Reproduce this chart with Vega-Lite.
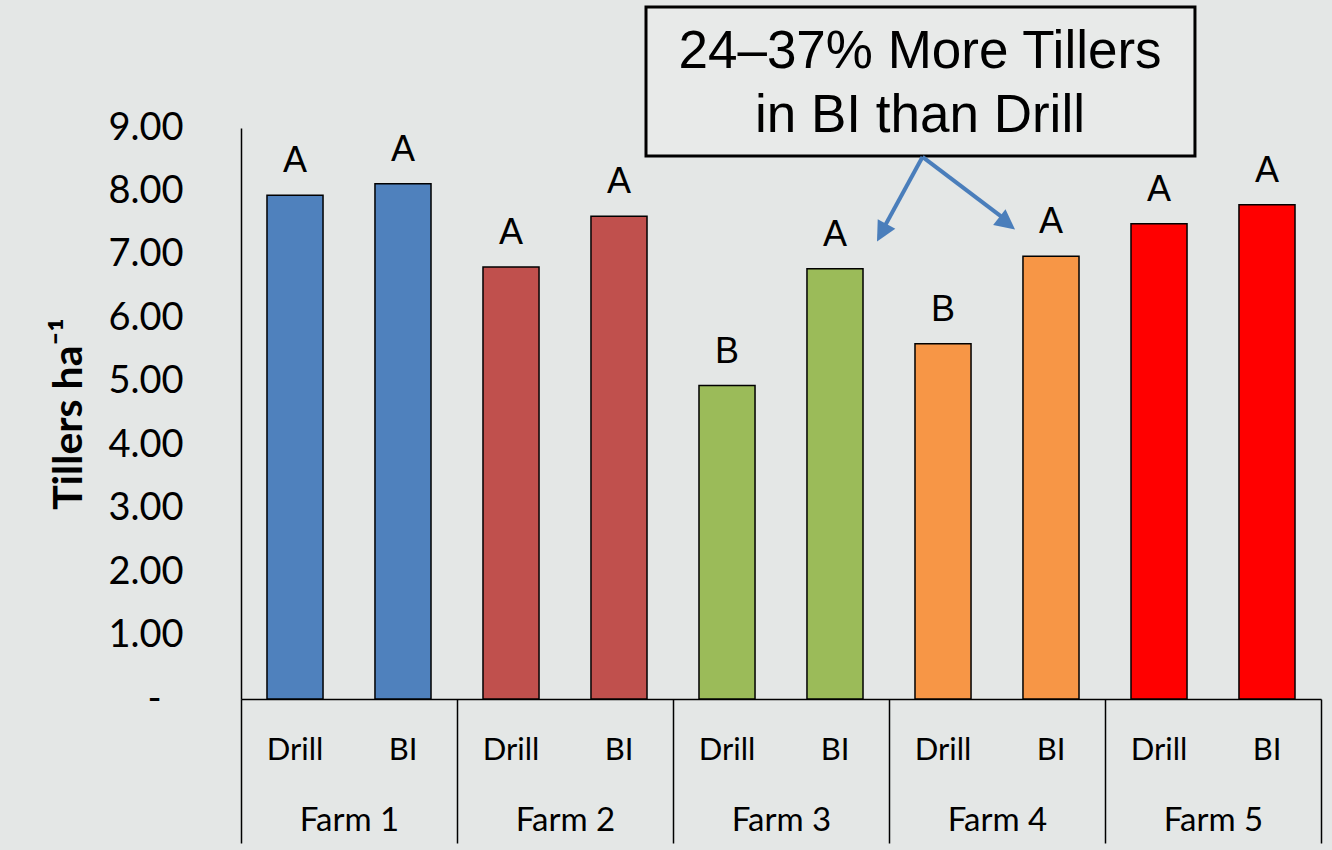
{
  "$schema": "https://vega.github.io/schema/vega-lite/v6.json",
  "width": 1080,
  "height": 571,
  "autosize": {"type": "none"},
  "padding": {"left": 241, "top": 128, "right": 11, "bottom": 151},
  "background": "#e4e7e6",
  "config": {"view": {"stroke": null}, "font": "Lato"},
  "data": {
    "values": [
      {"Farm": "Farm 1", "Method": "Drill", "Tillers": 7.94, "Group": "A"},
      {"Farm": "Farm 1", "Method": "BI", "Tillers": 8.12, "Group": "A"},
      {"Farm": "Farm 2", "Method": "Drill", "Tillers": 6.81, "Group": "A"},
      {"Farm": "Farm 2", "Method": "BI", "Tillers": 7.61, "Group": "A"},
      {"Farm": "Farm 3", "Method": "Drill", "Tillers": 4.94, "Group": "B"},
      {"Farm": "Farm 3", "Method": "BI", "Tillers": 6.78, "Group": "A"},
      {"Farm": "Farm 4", "Method": "Drill", "Tillers": 5.6, "Group": "B"},
      {"Farm": "Farm 4", "Method": "BI", "Tillers": 6.98, "Group": "A"},
      {"Farm": "Farm 5", "Method": "Drill", "Tillers": 7.49, "Group": "A"},
      {"Farm": "Farm 5", "Method": "BI", "Tillers": 7.79, "Group": "A"}
    ]
  },
  "layer": [
    {
      "encoding": {
        "x": {
          "field": "Farm",
          "type": "nominal",
          "scale": {"paddingInner": 0, "paddingOuter": 0},
          "axis": {
            "title": null,
            "grid": false,
            "tickBand": "extent",
            "tickSize": 144,
            "tickColor": "black",
            "tickWidth": 1.5,
            "domainColor": "black",
            "domainWidth": 1.5,
            "labelAngle": 0,
            "labelFont": "Lato",
            "labelFontSize": 33,
            "labelColor": "black",
            "labelBaseline": "alphabetic",
            "labelPadding": -13
          }
        },
        "xOffset": {
          "field": "Method",
          "type": "nominal",
          "sort": ["Drill", "BI"],
          "scale": {"paddingInner": 0.481, "paddingOuter": 0.2407}
        },
        "y": {
          "field": "Tillers",
          "type": "quantitative",
          "scale": {"domain": [0, 9], "nice": false},
          "axis": {
            "title": "Tillers ha⁻¹",
            "titleFont": "Lato",
            "titleFontWeight": "bold",
            "titleFontSize": 41,
            "titleColor": "black",
            "titlePadding": 17,
            "values": [0, 1, 2, 3, 4, 5, 6, 7, 8, 9],
            "labelExpr": "datum.value == 0 ? '-' : format(datum.value, '.2f')",
            "ticks": false,
            "tickSize": 0,
            "labelPadding": {"condition": {"test": "datum.value == 0", "value": 80}, "value": 58},
            "labelFont": "Lato",
            "labelFontSize": 38,
            "labelColor": "black",
            "domainColor": "black",
            "domainWidth": 1.5,
            "grid": false
          }
        }
      },
      "layer": [
        {
          "mark": {"type": "bar", "stroke": "black", "strokeWidth": 1.5},
          "encoding": {
            "color": {
              "field": "Farm",
              "type": "nominal",
              "scale": {
                "domain": ["Farm 1", "Farm 2", "Farm 3", "Farm 4", "Farm 5"],
                "range": ["#4f81bd", "#c0504d", "#9bbb59", "#f79646", "#ff0000"]
              },
              "legend": null
            }
          }
        },
        {
          "mark": {
            "type": "text",
            "font": "Liberation Sans",
            "fontSize": 36,
            "color": "black",
            "baseline": "alphabetic",
            "dy": -23
          },
          "encoding": {"text": {"field": "Group"}}
        },
        {
          "mark": {
            "type": "text",
            "font": "Lato",
            "fontSize": 31,
            "color": "black",
            "baseline": "alphabetic",
            "dy": 61
          },
          "encoding": {
            "y": {"datum": 0, "type": "quantitative"},
            "text": {"field": "Method"}
          }
        }
      ]
    },
    {
      "data": {"values": [{}]},
      "layer": [
        {
          "mark": {"type": "rect", "fill": "#ffffff", "fillOpacity": 0.15, "stroke": "black", "strokeWidth": 3},
          "encoding": {
            "x": {"datum": 3.75, "type": "quantitative", "scale": {"domain": [0, 10], "nice": false, "zero": false}, "axis": null},
            "x2": {"datum": 8.833},
            "y": {"datum": 10.907, "type": "quantitative", "scale": {"domain": [0, 9], "nice": false}, "axis": null},
            "y2": {"datum": 8.559}
          }
        },
        {
          "mark": {
            "type": "text",
            "text": ["24–37% More Tillers", "in BI than Drill"],
            "font": "Liberation Sans",
            "fontSize": 53,
            "lineHeight": 64,
            "color": "black",
            "align": "center",
            "baseline": "alphabetic"
          },
          "encoding": {
            "x": {"datum": 6.287, "type": "quantitative", "scale": {"domain": [0, 10], "nice": false, "zero": false}, "axis": null},
            "y": {"datum": 9.946, "type": "quantitative", "scale": {"domain": [0, 9], "nice": false}, "axis": null}
          }
        },
        {
          "mark": {"type": "rule", "color": "#4a7ebb", "strokeWidth": 4},
          "encoding": {
            "x": {"datum": 6.31, "type": "quantitative", "scale": {"domain": [0, 10], "nice": false, "zero": false}, "axis": null},
            "y": {"datum": 8.544, "type": "quantitative", "scale": {"domain": [0, 9], "nice": false}, "axis": null},
            "x2": {"datum": 5.95},
            "y2": {"datum": 7.42}
          }
        },
        {
          "mark": {"type": "rule", "color": "#4a7ebb", "strokeWidth": 4},
          "encoding": {
            "x": {"datum": 6.31, "type": "quantitative", "scale": {"domain": [0, 10], "nice": false, "zero": false}, "axis": null},
            "y": {"datum": 8.544, "type": "quantitative", "scale": {"domain": [0, 9], "nice": false}, "axis": null},
            "x2": {"datum": 7.05},
            "y2": {"datum": 7.59}
          }
        },
        {
          "mark": {
            "type": "point",
            "shape": "M0,0L-0.5,1L0.5,1Z",
            "filled": true,
            "color": "#4a7ebb",
            "opacity": 1,
            "size": 1600,
            "angle": 208.4
          },
          "encoding": {
            "x": {"datum": 5.889, "type": "quantitative", "scale": {"domain": [0, 10], "nice": false, "zero": false}, "axis": null},
            "y": {"datum": 7.211, "type": "quantitative", "scale": {"domain": [0, 9], "nice": false}, "axis": null}
          }
        },
        {
          "mark": {
            "type": "point",
            "shape": "M0,0L-0.5,1L0.5,1Z",
            "filled": true,
            "color": "#4a7ebb",
            "opacity": 1,
            "size": 1600,
            "angle": 128.2
          },
          "encoding": {
            "x": {"datum": 7.167, "type": "quantitative", "scale": {"domain": [0, 10], "nice": false, "zero": false}, "axis": null},
            "y": {"datum": 7.4, "type": "quantitative", "scale": {"domain": [0, 9], "nice": false}, "axis": null}
          }
        }
      ]
    }
  ],
  "resolve": {"scale": {"x": "independent", "y": "independent"}}
}
